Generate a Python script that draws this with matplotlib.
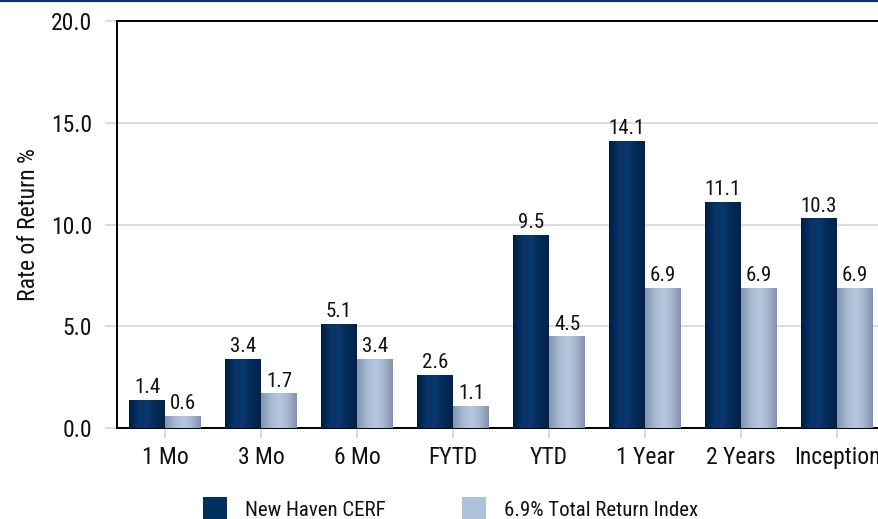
import matplotlib
matplotlib.use("Agg")
import matplotlib.pyplot as plt
import numpy as np
from matplotlib.colors import LinearSegmentedColormap
from matplotlib.patches import Rectangle
from matplotlib.lines import Line2D

plt.rcParams['font.family'] = ['Liberation Sans Narrow', 'Roboto Condensed', 'Archivo Narrow',
                               'Liberation Sans', 'DejaVu Sans']

categories = ["1 Mo", "3 Mo", "6 Mo", "FYTD", "YTD", "1 Year", "2 Years", "Inception"]
cerf = [1.4, 3.4, 5.1, 2.6, 9.5, 14.1, 11.1, 10.3]
index_ret = [0.6, 1.7, 3.4, 1.1, 4.5, 6.9, 6.9, 6.9]
series_names = ["New Haven CERF", "6.9% Total Return Index"]
yticks = [0.0, 5.0, 10.0, 15.0, 20.0]

dark_cmap = LinearSegmentedColormap.from_list(
    "dark", ["#001f45", "#073468", "#0a376c", "#002a58", "#00234c"])
light_cmap = LinearSegmentedColormap.from_list(
    "light", ["#8494ad", "#a3b6cf", "#b6c9e1", "#a5b7cf", "#8090a9"])
solid = ["#00305f", "#adc1da"]

fig = plt.figure(figsize=(8.79, 5.19), dpi=100)
ax = fig.add_axes([117/879, 1-428/519, 768/879, 407/519])

x = np.arange(len(categories))
w = 0.375
grad = np.linspace(0, 1, 64).reshape(1, -1)
for vals, off, cmap, col in [(cerf, -w/2, dark_cmap, solid[0]), (index_ret, w/2, light_cmap, solid[1])]:
    bars = ax.bar(x + off, vals, width=w, color=col, zorder=2, linewidth=0)
    for b, v in zip(bars, vals):
        x0 = b.get_x()
        im = ax.imshow(grad, extent=[x0, x0 + w, 0, v], aspect='auto', cmap=cmap,
                       zorder=3, interpolation='bilinear')
        im.set_clip_path(b)
        ax.annotate(f"{v:.1f}", (x0 + w/2, v), xytext=(0, 2), textcoords='offset points',
                    ha='center', va='bottom', fontsize=15, color='#111111', zorder=4)

ax.set_xlim(-0.5, len(categories) - 0.5)
ax.set_ylim(0, 20)
ax.set_yticks(yticks)
ax.set_yticklabels([f"{t:.1f}" for t in yticks])
ax.set_xticks(x)
ax.set_xticklabels(categories)
ax.tick_params(axis='y', length=9, width=1.3, color='#d9d9d9', pad=9, labelsize=17, labelcolor='#111111')
ax.tick_params(axis='x', length=7, width=1.3, color='#d9d9d9', pad=6, labelsize=17, labelcolor='#111111')
ax.yaxis.grid(True, color='#d9d9d9', linewidth=1.3, zorder=0)
ax.set_axisbelow(True)
for s in ['left', 'bottom', 'top']:
    ax.spines[s].set_color('black')
    ax.spines[s].set_linewidth(1.4)
ax.spines['right'].set_visible(False)
ax.set_ylabel("Rate of Return %", fontsize=17, color='#111111')
ax.yaxis.set_label_coords((40 - 117) / 768, 0.5)

# header line
fig.add_artist(Line2D([0, 1], [1 - 1/519, 1 - 1/519], transform=fig.transFigure,
                      color='#0f3461', linewidth=1.6))

# legend
leg_x = [203, 462]
for name, col, lx in zip(series_names, solid, leg_x):
    fig.add_artist(Rectangle((lx/879, 0), 24/879, 22/519, transform=fig.transFigure,
                             facecolor=col, edgecolor='none'))
    fig.text((lx + 42)/879, 1 - 510/519, name, fontsize=15, va='center', ha='left', color='#111111')

fig.savefig("out.png", dpi=100)
